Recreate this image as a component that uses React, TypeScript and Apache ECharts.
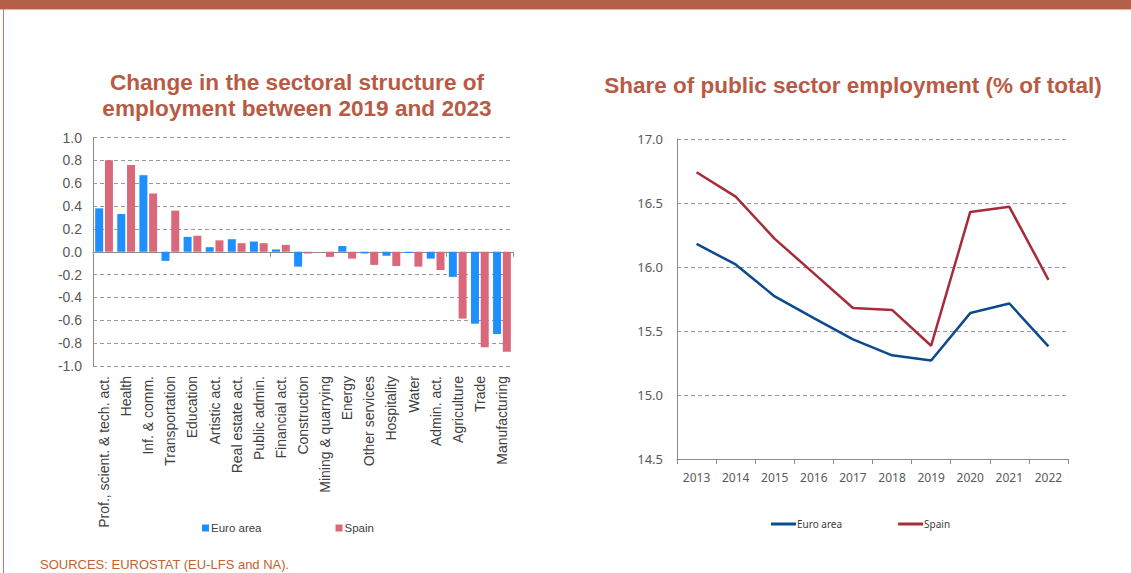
import React, { useEffect, useRef } from "react";
import * as echarts from "echarts";

const sectors = [
  "Prof., scient. & tech. act.",
  "Health",
  "Inf. & comm.",
  "Transportation",
  "Education",
  "Artistic act.",
  "Real estate act.",
  "Public admin.",
  "Financial act.",
  "Construction",
  "Mining & quarrying",
  "Energy",
  "Other services",
  "Hospitality",
  "Water",
  "Admin. act.",
  "Agriculture",
  "Trade",
  "Manufacturing",
];
const euroChange = [0.38, 0.33, 0.67, -0.08, 0.13, 0.04, 0.11, 0.09, 0.02, -0.13, 0.0, 0.05, -0.015, -0.035, -0.01, -0.06, -0.22, -0.63, -0.72];
const spainChange = [0.8, 0.76, 0.51, 0.36, 0.14, 0.1, 0.075, 0.075, 0.06, -0.015, -0.045, -0.06, -0.115, -0.125, -0.13, -0.16, -0.585, -0.835, -0.875];

const years = ["2013", "2014", "2015", "2016", "2017", "2018", "2019", "2020", "2021", "2022"];
const euroShare = [16.18, 16.02, 15.77, 15.6, 15.435, 15.31, 15.27, 15.64, 15.715, 15.38];
const spainShare = [16.74, 16.55, 16.22, 15.95, 15.68, 15.665, 15.385, 16.43, 16.47, 15.9];

const RUST = "#B85A44";
const BLUE = "#1E8FFF";
const PINK = "#D9697A";
const NAVY = "#0B4A8B";
const RED = "#A82B3A";

export default function App() {
  const ref = useRef<HTMLDivElement>(null);
  useEffect(() => {
    if (!ref.current) return;
    const chart = echarts.init(ref.current, null, { renderer: "svg" });
    const axisGray = "#8c8c8c";
    const gridLine = { lineStyle: { color: "#9a9a9a", type: [4, 3] as any, width: 1 } };
    chart.setOption({
      animation: false,
      backgroundColor: "#ffffff",
      title: [
        {
          text: "Change in the sectoral structure of\nemployment between 2019 and 2023",
          left: 292,
          textAlign: "center",
          top: 64,
          textStyle: { fontFamily: "Liberation Sans", fontWeight: "bold", fontSize: 22.6, color: RUST, lineHeight: 26 },
        },
        {
          text: "Share of public sector employment (% of total)",
          left: 848,
          textAlign: "center",
          top: 69,
          textStyle: { fontFamily: "Liberation Sans", fontWeight: "bold", fontSize: 22.5, color: RUST },
        },
      ],
      legend: [
        {
          data: ["Euro area", "Spain"],
          left: 197,
          top: 517,
          icon: "rect",
          itemWidth: 7,
          itemHeight: 7,
          itemGap: 74,
          textStyle: { fontFamily: "Liberation Sans", fontSize: 11.5, color: "#404040", padding: [0, 0, 0, -3] },
        },
        {
          data: ["Euro area L", "Spain L"],
          left: 766,
          top: 514,
          icon: "rect",
          itemWidth: 25,
          itemHeight: 3,
          itemGap: 56,
          formatter: (n: string) => n.replace(" L", ""),
          textStyle: { fontFamily: "Noto Sans", fontSize: 10, color: "#404040", padding: [0, 0, 0, -4] },
        },
      ],
      grid: [
        { left: 93, top: 137.5, width: 420, height: 228.5 },
        { left: 677, top: 139, width: 391, height: 320 },
      ],
      xAxis: [
        {
          type: "category",
          gridIndex: 0,
          data: sectors,
          axisLine: { onZero: true, lineStyle: { color: axisGray, width: 1 } },
          axisTick: { show: true, length: 5, lineStyle: { color: axisGray } },
          axisLabel: { show: false },
        },
        {
          type: "category",
          gridIndex: 0,
          data: sectors,
          position: "bottom",
          axisLine: { show: false, onZero: false },
          axisTick: { show: false },
          axisLabel: {
            rotate: 90,
            margin: 10,
            interval: 0,
            fontFamily: "Liberation Sans",
            fontSize: 14,
            color: "#404040",
          },
        },
        {
          type: "category",
          gridIndex: 1,
          data: years,
          boundaryGap: true,
          axisLine: { lineStyle: { color: axisGray } },
          axisTick: { show: true, length: 5, lineStyle: { color: axisGray } },
          axisLabel: { margin: 12, fontFamily: "Noto Sans", fontSize: 12, color: "#595959" },
        },
      ],
      yAxis: [
        {
          type: "value",
          gridIndex: 0,
          min: -1,
          max: 1,
          interval: 0.2,
          axisLine: { show: true, lineStyle: { color: axisGray } },
          axisTick: { show: false },
          splitLine: gridLine,
          axisLabel: {
            margin: 11,
            fontFamily: "Liberation Sans",
            fontSize: 14,
            color: "#595959",
            formatter: (v: number) => v.toFixed(1),
          },
        },
        {
          type: "value",
          gridIndex: 1,
          min: 14.5,
          max: 17,
          interval: 0.5,
          axisLine: { show: true, lineStyle: { color: axisGray } },
          axisTick: { show: false },
          splitLine: gridLine,
          axisLabel: {
            margin: 14,
            fontFamily: "Noto Sans",
            fontSize: 13,
            color: "#595959",
            formatter: (v: number) => v.toFixed(1),
          },
        },
      ],
      series: [
        {
          name: "Euro area",
          type: "bar",
          xAxisIndex: 0,
          yAxisIndex: 0,
          data: euroChange,
          barWidth: 8,
          barGap: "22%",
          itemStyle: { color: BLUE },
        },
        {
          name: "Spain",
          type: "bar",
          xAxisIndex: 0,
          yAxisIndex: 0,
          data: spainChange,
          barWidth: 8,
          barGap: "22%",
          itemStyle: { color: PINK },
        },
        {
          name: "Euro area L",
          type: "line",
          xAxisIndex: 2,
          yAxisIndex: 1,
          data: euroShare,
          showSymbol: false,
          symbol: "none",
          lineStyle: { color: NAVY, width: 2.5 },
          itemStyle: { color: NAVY },
        },
        {
          name: "Spain L",
          type: "line",
          xAxisIndex: 2,
          yAxisIndex: 1,
          data: spainShare,
          showSymbol: false,
          symbol: "none",
          lineStyle: { color: RED, width: 2.5 },
          itemStyle: { color: RED },
        },
      ],
      graphic: [
        { type: "rect", shape: { x: 0, y: 0, width: 1131, height: 9 }, style: { fill: "#B5604A" }, silent: true },
        { type: "rect", shape: { x: 0, y: 9, width: 1131, height: 1 }, style: { fill: "#E3B3A6" }, silent: true },
        { type: "rect", shape: { x: 3, y: 9, width: 1, height: 564 }, style: { fill: "#C07A68" }, silent: true },
        {
          type: "text",
          left: 40,
          top: 558,
          style: {
            text: "SOURCES: EUROSTAT (EU-LFS and NA).",
            font: "13px 'Liberation Sans'",
            fill: "#C4622D",
          },
          silent: true,
        },
      ],
    });
    return () => chart.dispose();
  }, []);
  return (
    <div style={{ position: "absolute", left: 0, top: 0, width: 1131, height: 573 }}>
      <div ref={ref} style={{ width: 1131, height: 573 }} />
    </div>
  );
}
